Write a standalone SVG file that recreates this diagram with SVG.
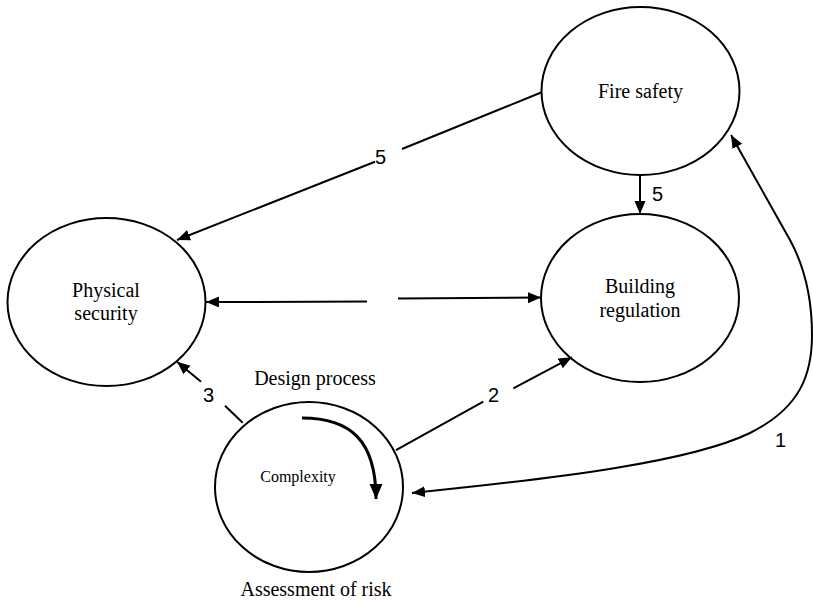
<svg xmlns="http://www.w3.org/2000/svg" width="813" height="602" viewBox="0 0 813 602">
  <style>
    .node { fill: #ffffff; stroke: #000000; stroke-width: 2; }
    .label { font-family: "Liberation Serif", "Times New Roman", serif; font-size: 20px; fill: #000000; text-anchor: middle; }
    .small { font-size: 16px; }
    .num { font-family: "Liberation Sans", Arial, sans-serif; font-size: 20px; fill: #000000; }
    .edge { fill: none; stroke: #000000; stroke-width: 2; }
    .bold { stroke-width: 3; }
  </style>
  <defs>
    <marker id="arrow" markerUnits="userSpaceOnUse" markerWidth="14" markerHeight="12" refX="13" refY="5.5" orient="auto-start-reverse">
      <path d="M0,0 L13,5.5 L0,11 z" fill="#000000"/>
    </marker>
    <marker id="arrow-big" markerUnits="userSpaceOnUse" markerWidth="16" markerHeight="14" refX="15" refY="6.5" orient="auto">
      <path d="M0,0 L15,6.5 L0,13 z" fill="#000000"/>
    </marker>
  </defs>
  <rect width="813" height="602" fill="#ffffff"/>

  <g id="fire-safety">
    <ellipse class="node" cx="640.5" cy="91" rx="99" ry="84"/>
    <text class="label" x="640.5" y="98">Fire safety</text>
  </g>

  <g id="building-regulation">
    <ellipse class="node" cx="640" cy="298" rx="99" ry="84"/>
    <text class="label" x="640" y="293">Building</text>
    <text class="label" x="640" y="317">regulation</text>
  </g>

  <g id="physical-security">
    <ellipse class="node" cx="106.5" cy="302" rx="99" ry="84"/>
    <text class="label" x="106" y="297">Physical</text>
    <text class="label" x="106" y="320">security</text>
  </g>

  <g id="complexity">
    <ellipse class="node" cx="309" cy="487" rx="94" ry="85"/>
    <text class="label small" x="298" y="482">Complexity</text>
    <path class="edge bold" d="M302,418 C350,418 376,440 376,499" marker-end="url(#arrow-big)"/>
    <text class="label" x="315" y="385">Design process</text>
    <text class="label" x="316" y="596">Assessment of risk</text>
  </g>

  <g id="connectors">
    <!-- Fire safety to Physical security, label 5 -->
    <line class="edge" x1="541.7" y1="92.3" x2="402" y2="149"/>
    <line class="edge" x1="375" y1="161.7" x2="177" y2="240" marker-end="url(#arrow)"/>
    <text class="num" x="375" y="164">5</text>

    <!-- Fire safety to Building regulation, label 5 -->
    <line class="edge" x1="640" y1="175" x2="640" y2="214" marker-end="url(#arrow)"/>
    <text class="num" x="652" y="201">5</text>

    <!-- Physical security and Building regulation, both ways -->
    <line class="edge" x1="367" y1="301.6" x2="206" y2="302" marker-end="url(#arrow)"/>
    <line class="edge" x1="398" y1="298.6" x2="541" y2="297.6" marker-end="url(#arrow)"/>

    <!-- Complexity to Physical security, label 3 -->
    <line class="edge" x1="242.7" y1="422.7" x2="225" y2="405.7"/>
    <line class="edge" x1="201" y1="381.7" x2="177" y2="361.7" marker-end="url(#arrow)"/>
    <text class="num" x="203" y="402">3</text>

    <!-- Complexity to Building regulation, label 2 -->
    <line class="edge" x1="396" y1="450" x2="483.3" y2="401.7"/>
    <line class="edge" x1="513.3" y1="388.3" x2="571.7" y2="357.3" marker-end="url(#arrow)"/>
    <text class="num" x="488" y="402">2</text>

    <!-- Complexity and Fire safety, both ways, label 1 -->
    <path class="edge" d="M412,493 C560,478 690,462 750,433 C800,408 812,375 812,335 C812,295 802,262 790,240 L731,135" marker-start="url(#arrow)" marker-end="url(#arrow)"/>
    <text class="num" x="775" y="447">1</text>
  </g>
</svg>
